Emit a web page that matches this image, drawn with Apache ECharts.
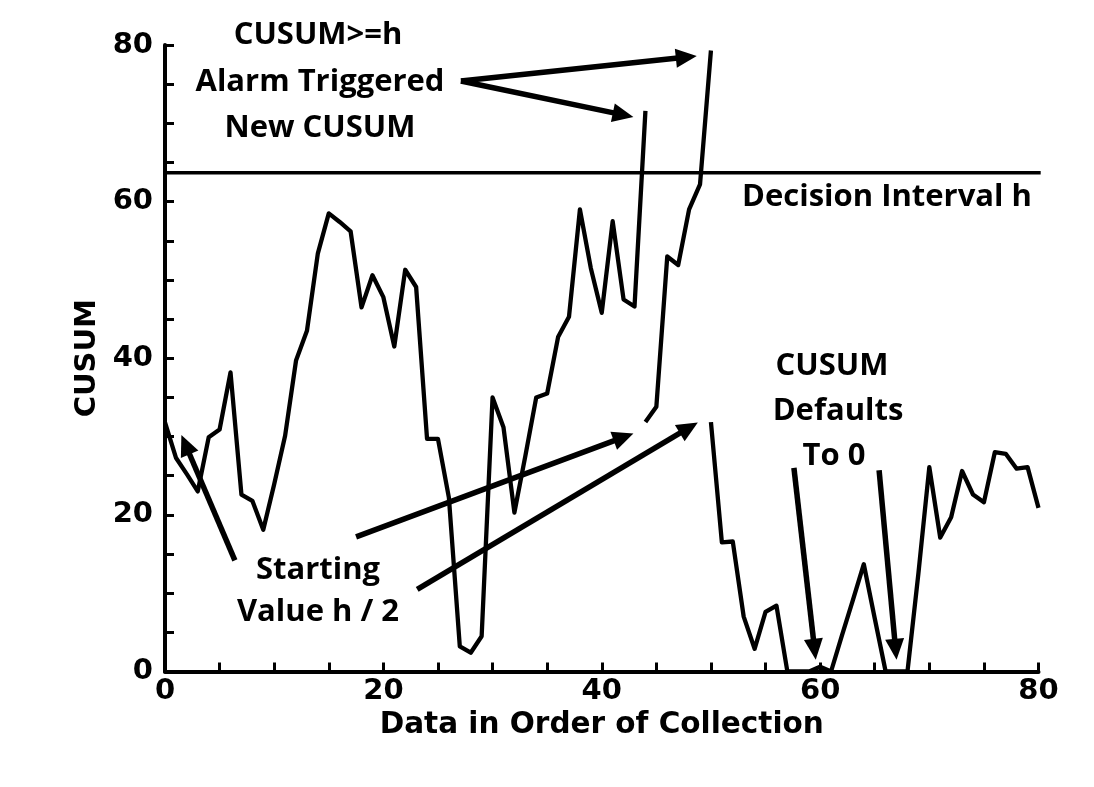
<!DOCTYPE html>
<html>
<head>
<meta charset="utf-8">
<script src="https://cdn.jsdelivr.net/npm/echarts@6/dist/echarts.min.js"></script>
<style>
html,body{margin:0;padding:0;background:#fff;}
#chart{width:1094px;height:787px;}
</style>
</head>
<body>
<div id="chart"></div>
<script>
// ---- data ----
const xTickLabels = [0, 20, 40, 60, 80];
const yTickLabels = [0, 20, 40, 60, 80];
const decisionH = 63.7;
const decisionX = [0, 80.2];

// first CUSUM run (x = 0..44)
const run1X = [0,1,2,3,4,5,6,7,8,9,10,11,12,13,14,15,16,17,18,19,20,21,22,23,24,25,26,27,28,29,30,31,32,33,34,35,36,37,38,39,40,41,42,43,44];
const run1Y = [31.8,27.3,25.2,23.0,29.9,30.9,38.2,22.6,21.8,18.1,23.9,30.1,39.7,43.5,53.4,58.5,57.4,56.2,46.5,50.6,47.8,41.5,51.3,49.1,29.7,29.7,22.2,3.2,2.4,4.5,35.0,31.2,20.3,27.5,35.0,35.5,42.7,45.3,59.0,51.5,45.8,57.5,47.5,46.6,71.6];

// second CUSUM run (restarted at h/2, x = 44..50)
const run2X = [44,45,46,47,48,49,50];
const run2Y = [31.85,33.8,53.0,51.9,59.0,62.2,79.3];

// third CUSUM run (restarted at h/2, x = 50..80)
const run3X = [50,51,52,53,54,55,56,57,58,59,60,61,62,63,64,65,66,67,68,69,70,71,72,73,74,75,76,77,78,79,80];
const run3Y = [31.85,16.5,16.6,7.0,2.9,7.6,8.4,0,0,0,0.6,0,4.6,9.1,13.7,6.8,0,0,0,12.5,26.1,17.1,19.7,25.6,22.6,21.6,28.0,27.8,25.9,26.1,20.9];

// annotation arrows in data coordinates: [fromX, fromY, toX, toY]
const arrows = [
  [27.1, 75.4, 48.7, 78.6],
  [27.1, 75.4, 42.9, 70.8],
  [6.4, 14.2, 1.5, 30.2],
  [17.5, 17.2, 42.9, 30.4],
  [23.1, 10.5, 48.8, 31.8],
  [57.6, 26.0, 59.6, 1.5],
  [65.4, 25.7, 67.0, 1.5]
];

function pairs(xs, ys){ return xs.map((x,i)=>[x, ys[i]]); }

const axisFont = {fontFamily:'DejaVu Sans', fontWeight:'bold', fontSize:29, color:'#000'};
const annFont = 'bold 31px "Open Sans"';

const chart = echarts.init(document.getElementById('chart'), null, {renderer:'canvas'});

function run(xs, ys, width){
  return {
    type:'line', data:pairs(xs, ys), showSymbol:false, symbol:'none',
    lineStyle:{color:'#000', width:width||4.3, join:'round'}, itemStyle:{color:'#000'},
    animation:false, silent:true, clip:false
  };
}

chart.setOption({
  backgroundColor:'#fff',
  animation:false,
  grid:{left:165, right:55.5, top:45, bottom:115.5, containLabel:false},
  xAxis:{
    type:'value', min:0, max:80, interval:5,
    name:'Data in Order of Collection', nameLocation:'middle', nameGap:29,
    nameTextStyle:Object.assign({}, axisFont, {fontSize:29.5}),
    axisLine:{show:true, onZero:false, lineStyle:{color:'#000', width:4}},
    axisTick:{show:true, inside:true, length:9, lineStyle:{color:'#000', width:3}},
    axisLabel:Object.assign({margin:5, formatter:v=>xTickLabels.indexOf(v)>=0?String(v):''}, axisFont),
    splitLine:{show:false}
  },
  yAxis:{
    type:'value', min:0, max:80, interval:5,
    name:'CUSUM', nameLocation:'middle', nameGap:61,
    nameTextStyle:axisFont,
    axisLine:{show:true, onZero:false, lineStyle:{color:'#000', width:4}},
    axisTick:{show:true, inside:true, length:9, lineStyle:{color:'#000', width:3}},
    axisLabel:Object.assign({margin:12, formatter:v=>yTickLabels.indexOf(v)>=0?String(v):''}, axisFont),
    splitLine:{show:false}
  },
  series:[
    run(run1X, run1Y),
    run(run2X, run2Y),
    run(run3X, run3Y),
    run(decisionX, [decisionH, decisionH], 3.5)
  ]
});

// annotation graphics
const g = [];
arrows.forEach(a=>{
  const p0 = chart.convertToPixel({gridIndex:0}, [a[0], a[1]]);
  const p1 = chart.convertToPixel({gridIndex:0}, [a[2], a[3]]);
  const dx = p1[0]-p0[0], dy = p1[1]-p0[1];
  const len = Math.sqrt(dx*dx+dy*dy);
  const ux = dx/len, uy = dy/len;
  const headL = 21, headW = 9.5;
  const bx = p1[0]-ux*headL, by = p1[1]-uy*headL;
  g.push({type:'line', shape:{x1:p0[0], y1:p0[1], x2:bx+ux*2, y2:by+uy*2}, style:{stroke:'#000', lineWidth:5.5}, z:100, silent:true});
  g.push({type:'polygon', shape:{points:[[p1[0],p1[1]],[bx-uy*headW, by+ux*headW],[bx+uy*headW, by-ux*headW]]}, style:{fill:'#000'}, z:100, silent:true});
});
function txt(str, x, y, align){
  g.push({type:'text', x:x, y:y, z:101, silent:true,
    style:{text:str, font:annFont, fill:'#000', align:align||'center', verticalAlign:'middle'}});
}
txt('CUSUM>=h', 318, 35);
txt('Alarm Triggered', 320, 82);
txt('New CUSUM', 320, 128);
txt('Decision Interval h', 742, 197, 'left');
txt('CUSUM', 832, 366);
txt('Defaults', 838, 411);
txt('To 0', 834, 456);
txt('Starting', 318, 570);
txt('Value h / 2', 318, 612);
chart.setOption({graphic:{elements:g}});
</script>
</body>
</html>
